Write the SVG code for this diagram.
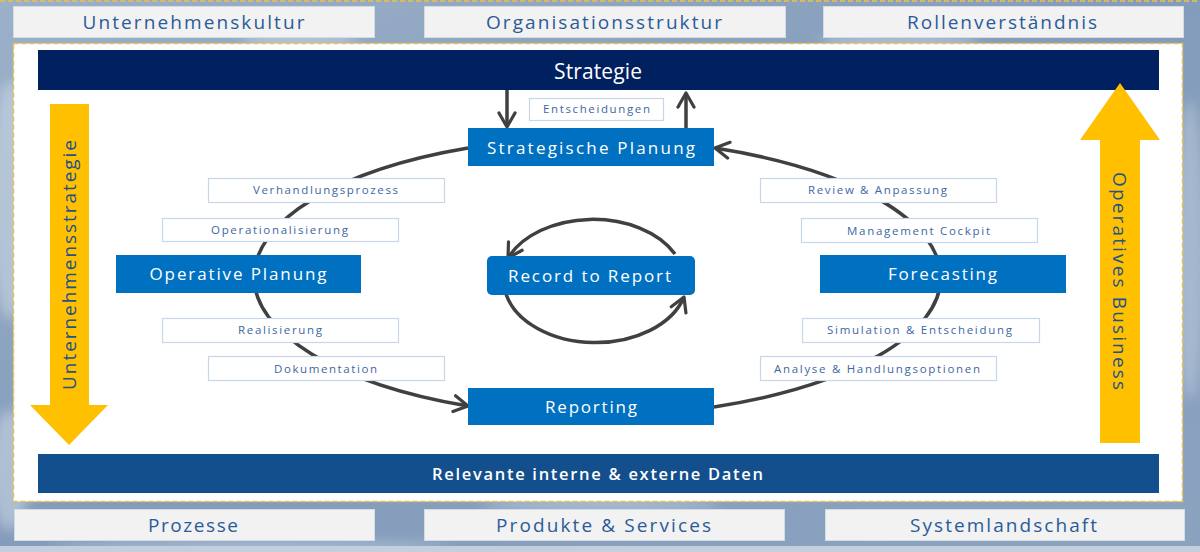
<svg xmlns="http://www.w3.org/2000/svg" width="1200" height="552" viewBox="0 0 1200 552">
<defs>
<linearGradient id="bg" x1="0" y1="0" x2="1" y2="1">
<stop offset="0" stop-color="#9bb0c9"/>
<stop offset="0.5" stop-color="#849cbb"/>
<stop offset="1" stop-color="#8ca3c0"/>
</linearGradient>
<filter id="blur" x="-50%" y="-50%" width="200%" height="200%"><feGaussianBlur stdDeviation="6"/></filter>
<marker id="arr" viewBox="0 0 20 20" refX="17" refY="10" markerWidth="20" markerHeight="20" markerUnits="userSpaceOnUse" orient="auto">
<path d="M3,2 L17,10 L3,18" fill="none" stroke="#404040" stroke-width="3.2" stroke-linecap="round" stroke-linejoin="round"/>
</marker>
<style>
.tag{fill:#f2f2f2;stroke:#d3dbe5;stroke-width:1}
.tagt{font-family:"Open Sans","Liberation Sans",sans-serif;font-size:19px;fill:#2b5b99;text-anchor:middle}
.lab{fill:#ffffff;stroke:#c9d6ea;stroke-width:1.2}
.labt{font-family:"Open Sans","Liberation Sans",sans-serif;font-size:11.5px;fill:#3d67a2;text-anchor:middle}
.node{fill:#0070c0}
.nodet{font-family:"Open Sans","Liberation Sans",sans-serif;font-size:17px;fill:#ffffff;text-anchor:middle}
.con{fill:none;stroke:#404040;stroke-width:3.5}
.yel{fill:#ffc000}
.vt{font-family:"Open Sans","Liberation Sans",sans-serif;font-size:19px;fill:#24508c;text-anchor:middle}
</style>
</defs>

<g id="background">
<rect x="0" y="0" width="1200" height="552" fill="url(#bg)"/>
<g filter="url(#blur)" opacity="0.45">
<ellipse cx="10" cy="200" rx="20" ry="120" fill="#dfe7f0"/>
<ellipse cx="10" cy="470" rx="20" ry="60" fill="#dfe7f0"/>
<ellipse cx="1190" cy="250" rx="15" ry="150" fill="#c9d5e3"/>
<ellipse cx="300" cy="40" rx="60" ry="8" fill="#dfe7f0"/>
<ellipse cx="900" cy="42" rx="80" ry="8" fill="#dfe7f0"/>
<ellipse cx="600" cy="505" rx="120" ry="6" fill="#dfe7f0"/>
<ellipse cx="250" cy="547" rx="200" ry="5" fill="#e6ecf3"/>
</g>
<rect x="0" y="546" width="1200" height="6" fill="#c3cfdd"/>
<line x1="0" y1="1" x2="1200" y2="1" stroke="#f0c040" stroke-width="1.5" stroke-dasharray="5,3"/>
</g>

<g id="frame">
<rect x="13.5" y="43.5" width="1169" height="458" fill="#ffffff" stroke="#f0c040" stroke-width="1.5" stroke-dasharray="5,3"/>
</g>

<g id="outer-labels">
<rect class="tag" x="13.5" y="6.5" width="361" height="31"/>
<text class="tagt" x="193.5" y="29" textLength="222" lengthAdjust="spacing">Unternehmenskultur</text>
<rect class="tag" x="424.5" y="6.5" width="361" height="31"/>
<text class="tagt" x="604" y="29" textLength="236" lengthAdjust="spacing">Organisationsstruktur</text>
<rect class="tag" x="823.5" y="6.5" width="360" height="31"/>
<text class="tagt" x="1002" y="29" textLength="190" lengthAdjust="spacing">Rollenverständnis</text>
<rect class="tag" x="14.5" y="509.5" width="360" height="31"/>
<text class="tagt" x="193" y="532" textLength="90" lengthAdjust="spacing">Prozesse</text>
<rect class="tag" x="424.5" y="509.5" width="360" height="31"/>
<text class="tagt" x="603.5" y="532" textLength="215" lengthAdjust="spacing">Produkte &amp; Services</text>
<rect class="tag" x="825.5" y="509.5" width="359" height="31"/>
<text class="tagt" x="1003.5" y="532" textLength="187" lengthAdjust="spacing">Systemlandschaft</text>
</g>

<g id="strategie">
<rect x="38" y="50" width="1121" height="40" fill="#002060"/>
<text x="598" y="79" font-family="'Open Sans','Liberation Sans',sans-serif" font-size="21" fill="#ffffff" text-anchor="middle" textLength="88" lengthAdjust="spacing">Strategie</text>
</g>

<g id="daten">
<rect x="38" y="454" width="1121" height="39" fill="#134f8c"/>
<text x="597.5" y="480" font-family="'Open Sans','Liberation Sans',sans-serif" font-size="16.5" font-weight="600" fill="#ffffff" text-anchor="middle" textLength="331" lengthAdjust="spacing">Relevante interne &amp; externe Daten</text>
</g>

<g id="unternehmensstrategie">
<polygon class="yel" points="50,104 89,104 89,405 108,405 69,445 30,405 50,405"/>
<text class="vt" transform="translate(76,265) rotate(-90)" x="0" y="0" textLength="250" lengthAdjust="spacing">Unternehmensstrategie</text>
</g>

<g id="operatives-business">
<polygon class="yel" points="1120,83 1160,140 1140,140 1140,443 1100,443 1100,140 1080,140"/>
<text class="vt" transform="translate(1113,281) rotate(90)" x="0" y="0" textLength="218" lengthAdjust="spacing">Operatives Business</text>
</g>

<g id="connectors">
<path class="con" d="M468,148 A350 140 0 0 0 468,406" marker-end="url(#arr)"/>
<path class="con" d="M714,407 A365 140 0 0 0 715,148" marker-end="url(#arr)"/>
<line class="con" x1="507" y1="90" x2="507" y2="127" marker-end="url(#arr)"/>
<line class="con" x1="686" y1="128" x2="686" y2="93" marker-end="url(#arr)"/>
<path class="con" d="M675,254 A92 63 0 0 0 508,258" marker-end="url(#arr)"/>
<path class="con" d="M506,294 A92 63 0 0 0 684,297" marker-end="url(#arr)"/>
</g>

<g id="entscheidungen">
<rect class="lab" x="529.5" y="98.5" width="134" height="22"/>
<text class="labt" x="596.5" y="113" textLength="107" lengthAdjust="spacing">Entscheidungen</text>
</g>

<g id="strategische-planung">
<rect class="node" x="468" y="128" width="246" height="38"/>
<text class="nodet" x="591" y="154" textLength="208" lengthAdjust="spacing">Strategische  Planung</text>
</g>

<g id="operative-planung">
<rect class="node" x="116" y="255" width="245" height="38"/>
<text class="nodet" x="238" y="280" textLength="177" lengthAdjust="spacing">Operative Planung</text>
</g>

<g id="forecasting">
<rect class="node" x="820" y="255" width="246" height="38"/>
<text class="nodet" x="942.5" y="280" textLength="109" lengthAdjust="spacing">Forecasting</text>
</g>

<g id="reporting">
<rect class="node" x="468" y="388" width="246" height="37"/>
<text class="nodet" x="591" y="413" textLength="92" lengthAdjust="spacing">Reporting</text>
</g>

<g id="record-to-report">
<rect class="node" x="487" y="256" width="208" height="39" rx="5"/>
<text class="nodet" x="589.5" y="282" textLength="163" lengthAdjust="spacing">Record to Report</text>
</g>

<g id="verhandlungsprozess">
<rect class="lab" x="208.5" y="178.5" width="236" height="24"/>
<text class="labt" x="325.5" y="194" textLength="145" lengthAdjust="spacing">Verhandlungsprozess</text>
</g>
<g id="operationalisierung">
<rect class="lab" x="162.5" y="218.5" width="236" height="23"/>
<text class="labt" x="279.5" y="234" textLength="137" lengthAdjust="spacing">Operationalisierung</text>
</g>
<g id="realisierung">
<rect class="lab" x="162.5" y="318.5" width="236" height="24"/>
<text class="labt" x="280" y="334" textLength="84" lengthAdjust="spacing">Realisierung</text>
</g>
<g id="dokumentation">
<rect class="lab" x="208.5" y="356.5" width="236" height="24"/>
<text class="labt" x="325.5" y="373" textLength="103" lengthAdjust="spacing">Dokumentation</text>
</g>
<g id="review-anpassung">
<rect class="lab" x="760.5" y="178.5" width="236" height="24"/>
<text class="labt" x="877.5" y="194" textLength="139" lengthAdjust="spacing">Review &amp; Anpassung</text>
</g>
<g id="management-cockpit">
<rect class="lab" x="801.5" y="218.5" width="236" height="24"/>
<text class="labt" x="918.5" y="235" textLength="143" lengthAdjust="spacing">Management Cockpit</text>
</g>
<g id="simulation-entscheidung">
<rect class="lab" x="802.5" y="318.5" width="237" height="24"/>
<text class="labt" x="919.5" y="334" textLength="185" lengthAdjust="spacing">Simulation &amp; Entscheidung</text>
</g>
<g id="analyse-handlungsoptionen">
<rect class="lab" x="760.5" y="356.5" width="236" height="24"/>
<text class="labt" x="877" y="373" textLength="206" lengthAdjust="spacing">Analyse &amp; Handlungsoptionen</text>
</g>
</svg>
